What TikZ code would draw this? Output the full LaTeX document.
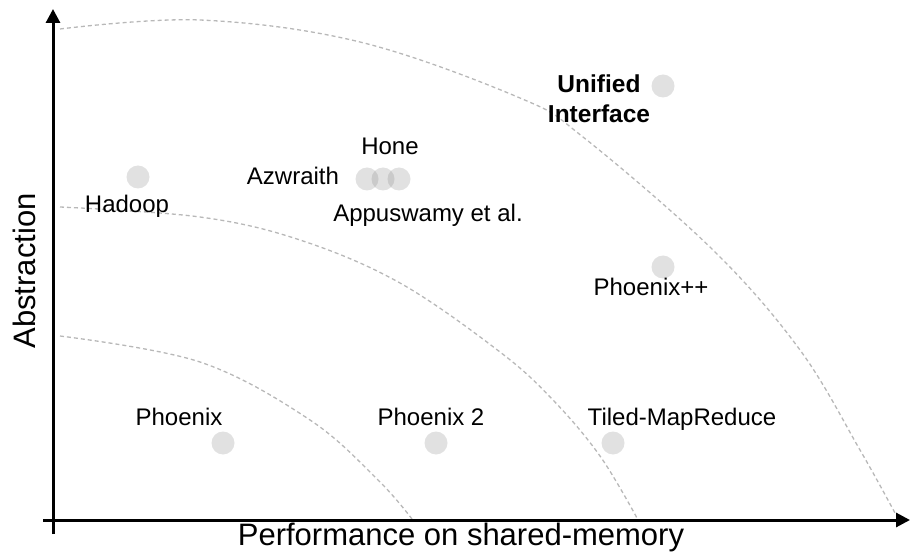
\documentclass[tikz,border=0pt]{standalone}
\usepackage{fontspec}
\setmainfont{Liberation Sans}
\usetikzlibrary{arrows.meta}
\tikzset{
  axis/.style={line width=3pt, -{Triangle[width=14pt,length=14pt]}},
  frontier/.style={draw=black!28, line width=1.3pt, dash pattern=on 4pt off 3pt},
  dot/.style={circle, fill=black!50, fill opacity=0.24, draw=none, minimum size=23pt, inner sep=0pt},
  lbl/.style={font=\fontsize{24}{29}\selectfont, anchor=base, inner sep=0pt},
  blbl/.style={font=\fontsize{24.5}{29}\selectfont\bfseries, anchor=base, inner sep=0pt},
  axlbl/.style={font=\fontsize{31}{37}\selectfont, inner sep=0pt}
}
\begin{document}
\begin{tikzpicture}[x=1pt, y=-1pt]
\useasboundingbox (0,0) rectangle (910,553);
% frontier curves
\draw[frontier] plot[smooth, tension=0.6] coordinates {(60,29) (200,20) (360,42) (520,98) (583,137) (713,250) (800,350) (860,450) (895,513)};
\draw[frontier] plot[smooth, tension=0.6] coordinates {(60,207) (200,217) (300,240) (400,283) (500,352) (553,400) (600,456) (637,518)};
\draw[frontier] plot[smooth, tension=0.6] coordinates {(60,336) (200,362) (310,420) (378,480) (412,519)};
% axes
\coordinate (ystart) at (53,534);
\coordinate (ytip) at (53,9);
\coordinate (xstart) at (43,520);
\coordinate (xtip) at (910,520);
\draw[axis] (ystart) -- (ytip);
\draw[axis] (xstart) -- (xtip);
\node[axlbl] (xl) at (461,537) {Performance on shared-memory};
\node[axlbl, rotate=90] (yl) at (24,271) {Abstraction};
% points
\node[dot] (hadoop) at (138,177) {};
\node[dot] (azw1) at (367,179) {};
\node[dot] (azw2) at (383,179) {};
\node[dot] (azw3) at (399,179) {};
\node[dot] (unified) at (663,86) {};
\node[dot] (phxpp) at (663,267) {};
\node[dot] (phx) at (223,443) {};
\node[dot] (phx2) at (436,443) {};
\node[dot] (tiled) at (613,443) {};
% labels
\node[lbl] (lhadoop) at (127,213) {Hadoop};
\node[lbl] (lazw) at (293,185) {Azwraith};
\node[lbl] (lhone) at (390,155) {Hone};
\node[lbl] (lapp) at (428,222) {Appuswamy et al.};
\node[blbl] (luni1) at (599,93) {Unified};
\node[blbl] (luni2) at (599,123) {Interface};
\node[lbl] (lphxpp) at (651,295) {Phoenix++};
\node[lbl] (lphx) at (179,425) {Phoenix};
\node[lbl] (lphx2) at (431,425) {Phoenix 2};
\node[lbl] (ltiled) at (682,425) {Tiled-MapReduce};
\end{tikzpicture}
\end{document}
